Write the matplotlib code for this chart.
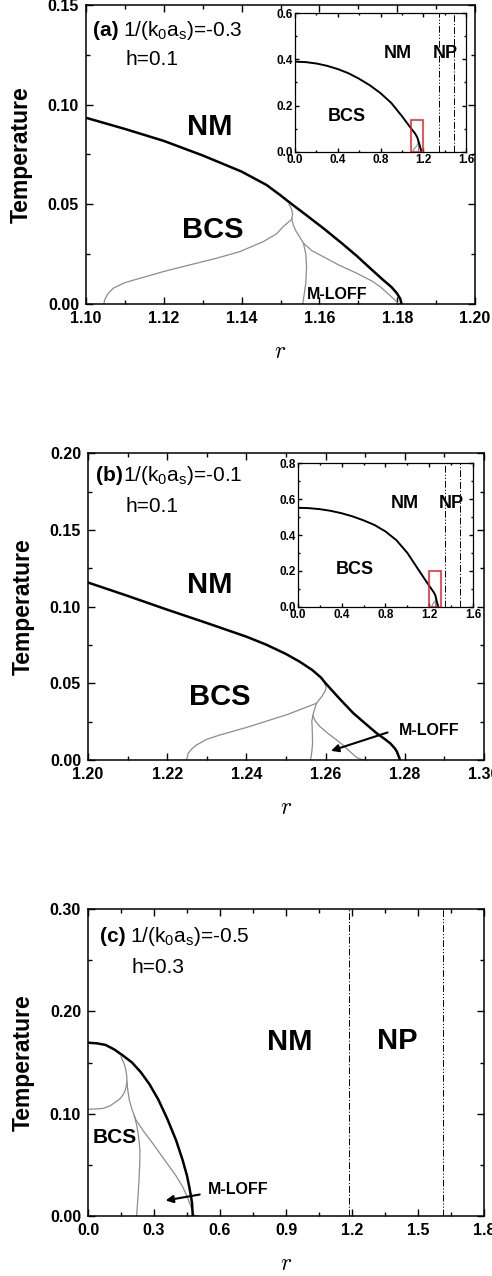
import numpy as np
import matplotlib
matplotlib.use("Agg")
import matplotlib.pyplot as plt
from matplotlib.ticker import MultipleLocator, FormatStrFormatter
from matplotlib.patches import Rectangle

plt.rcParams["font.family"] = ["Liberation Sans", "DejaVu Sans"]
plt.rcParams["mathtext.fontset"] = "custom"
plt.rcParams["mathtext.rm"] = "Liberation Sans"
plt.rcParams["mathtext.it"] = "Liberation Sans:italic"
plt.rcParams["mathtext.bf"] = "Liberation Sans:bold"

# ---------------- panel (a): 1/(k0 as) = -0.3, h = 0.1 ----------------
A_TC_R = [1.100, 1.110, 1.120, 1.130, 1.140, 1.1464, 1.150, 1.1524, 1.156, 1.161,
          1.1656, 1.1696, 1.173, 1.1764, 1.1785, 1.1799, 1.1808, 1.1811]
A_TC_T = [0.0934, 0.0878, 0.0818, 0.0745, 0.0664, 0.0597, 0.0545, 0.0508, 0.0455, 0.0380,
          0.0307, 0.0241, 0.0180, 0.0120, 0.0085, 0.0054, 0.0025, 0.0]
A_G1_R = [1.1046, 1.1048, 1.1055, 1.107, 1.110, 1.1139, 1.120, 1.1267, 1.1335, 1.1396,
          1.1456, 1.149, 1.1507, 1.1520, 1.1529, 1.1531, 1.1528, 1.1522]
A_G1_T = [0.0, 0.002, 0.0048, 0.0079, 0.0107, 0.0129, 0.0163, 0.0196, 0.0229, 0.0263,
          0.0313, 0.0352, 0.0388, 0.0410, 0.0425, 0.0452, 0.0478, 0.0498]
A_G2_R = [1.1529, 1.1533, 1.1540, 1.1559, 1.158, 1.161, 1.165, 1.1696, 1.1735, 1.1756,
          1.178, 1.1794, 1.1803]
A_G2_T = [0.0425, 0.0395, 0.0365, 0.0305, 0.0268, 0.0237, 0.0195, 0.0154, 0.0115, 0.0087,
          0.0045, 0.002, 0.0]
A_G3_R = [1.1559, 1.1565, 1.1567, 1.1565, 1.1561, 1.1557]
A_G3_T = [0.0305, 0.025, 0.0187, 0.0104, 0.005, 0.0]
# inset (a): low-r part of the transition line
A_IN_R = [0.0, 0.1, 0.2, 0.3, 0.4, 0.5, 0.6, 0.7, 0.8, 0.9, 1.0, 1.05]
A_IN_T = [0.390, 0.388, 0.382, 0.372, 0.358, 0.340, 0.316, 0.288, 0.254, 0.212, 0.155, 0.124]
A_NP_LINES = [1.344, 1.483]

# ---------------- panel (b): 1/(k0 as) = -0.1, h = 0.1 ----------------
B_TC_R = [1.200, 1.210, 1.220, 1.230, 1.240, 1.245, 1.250, 1.2535, 1.2566, 1.2588,
          1.260, 1.2635, 1.267, 1.270, 1.2729, 1.2750, 1.2763, 1.2775, 1.278, 1.2788]
B_TC_T = [0.1157, 0.1070, 0.0980, 0.0893, 0.0804, 0.0752, 0.0691, 0.0640, 0.0587, 0.0538,
          0.0500, 0.0400, 0.0305, 0.0238, 0.0174, 0.0135, 0.0109, 0.0075, 0.0054, 0.0]
B_G1_R = [1.2249, 1.2251, 1.2253, 1.2262, 1.2274, 1.230, 1.2333, 1.240, 1.246, 1.2505,
          1.2544, 1.2577, 1.2592, 1.2600, 1.2601, 1.2596, 1.2588]
B_G1_T = [0.0, 0.0022, 0.0043, 0.0072, 0.0098, 0.0135, 0.0163, 0.0212, 0.0261, 0.0298,
          0.0337, 0.037, 0.042, 0.0457, 0.048, 0.0508, 0.0536]
B_G2_R = [1.2577, 1.2569, 1.2565, 1.2566, 1.2567, 1.2565, 1.2562]
B_G2_T = [0.037, 0.0304, 0.025, 0.0217, 0.0109, 0.005, 0.0]
B_G3_R = [1.2567, 1.2575, 1.2586, 1.2605, 1.2628, 1.2645, 1.2662, 1.2678, 1.269, 1.270]
B_G3_T = [0.029, 0.025, 0.0217, 0.0175, 0.013, 0.0095, 0.0054, 0.0017, 0.0004, 0.0]
B_IN_R = [0.0, 0.1, 0.2, 0.3, 0.4, 0.5, 0.6, 0.7, 0.8, 0.9, 1.0, 1.1, 1.15]
B_IN_T = [0.552, 0.550, 0.5445, 0.535, 0.5216, 0.504, 0.482, 0.456, 0.420, 0.371,
          0.300, 0.207, 0.161]
B_NP_LINES = [1.344, 1.483]

# ---------------- panel (c): 1/(k0 as) = -0.5, h = 0.3 ----------------
C_TC_R = [0.0, 0.04, 0.08, 0.12, 0.16, 0.20, 0.24, 0.28, 0.32, 0.36, 0.40, 0.43,
          0.45, 0.46, 0.468, 0.473, 0.476]
C_TC_T = [0.1694, 0.1688, 0.1672, 0.1627, 0.1566, 0.1500, 0.1405, 0.1285, 0.1135, 0.0950,
          0.0740, 0.0545, 0.039, 0.0284, 0.019, 0.0121, 0.0]
C_G1_R = [0.0, 0.03, 0.067, 0.10, 0.127, 0.145, 0.158, 0.168, 0.173, 0.177, 0.176,
          0.172, 0.166, 0.158, 0.150]
C_G1_T = [0.1042, 0.1045, 0.105, 0.1075, 0.1116, 0.1145, 0.118, 0.122, 0.126, 0.131,
          0.137, 0.1425, 0.1475, 0.152, 0.1555]
C_G2_R = [0.177, 0.180, 0.188, 0.200, 0.218, 0.255, 0.294, 0.33, 0.37, 0.40, 0.43,
          0.45, 0.468, 0.483, 0.50]
C_G2_T = [0.131, 0.124, 0.113, 0.104, 0.0937, 0.082, 0.0709, 0.060, 0.048, 0.039,
          0.0284, 0.019, 0.0088, 0.0, 0.0]
C_G3_R = [0.210, 0.222, 0.230, 0.236, 0.235, 0.231, 0.226, 0.221]
C_G3_T = [0.098, 0.088, 0.077, 0.0643, 0.050, 0.0317, 0.015, 0.0]
C_NP_LINES = [1.185, 1.612]

GRAY = "#8c8c8c"
DASH1 = (0, (7, 2, 1.2, 2, 1.2, 2))
DASH2 = (0, (7, 2, 1.2, 2))


def style_axes(ax, xmaj, xmin, ymaj, ymin, xfmt, yfmt, size, length, pad=5):
    ax.xaxis.set_major_locator(MultipleLocator(xmaj))
    ax.xaxis.set_minor_locator(MultipleLocator(xmin))
    ax.yaxis.set_major_locator(MultipleLocator(ymaj))
    ax.yaxis.set_minor_locator(MultipleLocator(ymin))
    ax.xaxis.set_major_formatter(FormatStrFormatter(xfmt))
    ax.yaxis.set_major_formatter(FormatStrFormatter(yfmt))
    ax.tick_params(which="both", direction="in", top=True, right=True, width=1.0)
    ax.tick_params(which="major", length=length, labelsize=size, pad=pad)
    ax.tick_params(which="minor", length=length * 0.55)
    for lab in ax.get_xticklabels() + ax.get_yticklabels():
        lab.set_fontweight("bold")
    for s in ax.spines.values():
        s.set_linewidth(1.1)


def draw_lines(ax, tc, grays, tc_lw=1.8):
    for r, t in grays:
        ax.plot(r, t, color=GRAY, lw=0.9, zorder=2)
    ax.plot(tc[0], tc[1], color="k", lw=tc_lw, zorder=3)


def main_panel(rect, xlim, ylim, tc, grays, tag, coup, hval, tagpos):
    ax = fig.add_axes(rect)
    draw_lines(ax, tc, grays)
    ax.set_xlim(*xlim)
    ax.set_ylim(*ylim)
    ax.set_ylabel("Temperature", fontsize=16.5, fontweight="bold", labelpad=11)
    ax.set_xlabel("$r$", fontsize=17, math_fontfamily="cm", labelpad=11)
    x0, x1, y0, y1 = tagpos
    ax.text(x0, y0, tag, transform=ax.transAxes, fontsize=15, fontweight="bold",
            va="center", ha="left")
    ax.text(x1, y0, coup, transform=ax.transAxes, fontsize=15, va="center", ha="left")
    ax.text(x1 + 0.005, y1, hval, transform=ax.transAxes, fontsize=15, va="center", ha="left")
    return ax


def inset(rect, tc_in, tc, grays, ylim, ymaj, box, nplines, labels):
    ax = fig.add_axes(rect)
    r = list(tc_in[0]) + list(tc[0])
    t = list(tc_in[1]) + list(tc[1])
    for gr, gt in grays:
        ax.plot(gr, gt, color=GRAY, lw=0.8, zorder=2)
    ax.plot(r, t, color="k", lw=1.4, zorder=3)
    ax.axvline(nplines[0], color="k", lw=0.7, ls=DASH1)
    ax.axvline(nplines[1], color="k", lw=0.7, ls=DASH2)
    ax.add_patch(Rectangle((box[0], box[1]), box[2], box[3], fill=False,
                           edgecolor="#e8202a", lw=1.1, zorder=4))
    ax.set_xlim(0, 1.6)
    ax.set_ylim(*ylim)
    style_axes(ax, 0.4, 0.2, ymaj, ymaj / 2, "%.1f", "%.1f", 8.5, 3, pad=1.5)
    for s in ax.spines.values():
        s.set_linewidth(0.9)
    for txt, x, y in labels:
        ax.text(x, y, txt, fontsize=13, fontweight="bold", ha="center", va="center")
    return ax


fig = plt.figure(figsize=(4.92, 12.76), dpi=100)

# ---- (a)
axa = main_panel([0.1748, 0.7618, 0.7907, 0.2343], (1.10, 1.20), (0, 0.15),
                 (A_TC_R, A_TC_T),
                 [(A_G1_R, A_G1_T), (A_G2_R, A_G2_T), (A_G3_R, A_G3_T)],
                 "(a)", r"1/(k$_{\mathrm{0}}$a$_{\mathrm{s}}$)=-0.3", "h=0.1",
                 (0.019, 0.096, 0.916, 0.816))
style_axes(axa, 0.02, 0.01, 0.05, 0.025, "%.2f", "%.2f", 11.5, 5)
axa.text(1.1319, 0.0889, "NM", fontsize=21, fontweight="bold", ha="center", va="center")
axa.text(1.1326, 0.0371, "BCS", fontsize=21, fontweight="bold", ha="center", va="center")
axa.text(1.1568, 0.0047, "M-LOFF", fontsize=11.5, fontweight="bold", ha="left", va="center")

inset([0.5996, 0.8809, 0.3476, 0.1089], (A_IN_R, A_IN_T), (A_TC_R, A_TC_T),
      [(A_G1_R, A_G1_T), (A_G2_R, A_G2_T), (A_G3_R, A_G3_T)],
      (0, 0.6), 0.2, (1.083, 0.0, 0.117, 0.138), A_NP_LINES,
      [("NM", 0.964, 0.427), ("NP", 1.404, 0.427), ("BCS", 0.484, 0.152)])

# ---- (b)
axb = main_panel([0.1789, 0.4044, 0.8049, 0.2404], (1.20, 1.30), (0, 0.20),
                 (B_TC_R, B_TC_T),
                 [(B_G1_R, B_G1_T), (B_G2_R, B_G2_T), (B_G3_R, B_G3_T)],
                 "(b)", r"1/(k$_{\mathrm{0}}$a$_{\mathrm{s}}$)=-0.1", "h=0.1",
                 (0.019, 0.089, 0.929, 0.826))
style_axes(axb, 0.02, 0.01, 0.05, 0.025, "%.2f", "%.2f", 11.5, 5)
axb.text(1.2308, 0.114, "NM", fontsize=21, fontweight="bold", ha="center", va="center")
axb.text(1.2333, 0.0413, "BCS", fontsize=21, fontweight="bold", ha="center", va="center")
axb.text(1.2785, 0.0195, "M-LOFF", fontsize=11.5, fontweight="bold", ha="left", va="center")
axb.annotate("", xy=(1.2607, 0.0054), xytext=(1.2763, 0.0185),
             arrowprops=dict(arrowstyle="-|>", color="k", lw=1.5, mutation_scale=11))

inset([0.605, 0.5245, 0.3569, 0.1124], (B_IN_R, B_IN_T), (B_TC_R, B_TC_T),
      [(B_G1_R, B_G1_T), (B_G2_R, B_G2_T), (B_G3_R, B_G3_T)],
      (0, 0.8), 0.2, (1.2, 0.0, 0.11, 0.2), B_NP_LINES,
      [("NM", 0.978, 0.577), ("NP", 1.403, 0.578), ("BCS", 0.522, 0.205)])

# ---- (c)
axc = main_panel([0.1789, 0.04726, 0.8049, 0.2401], (0, 1.8), (0, 0.30),
                 (C_TC_R, C_TC_T),
                 [(C_G1_R, C_G1_T), (C_G2_R, C_G2_T), (C_G3_R, C_G3_T)],
                 "(c)", r"1/(k$_{\mathrm{0}}$a$_{\mathrm{s}}$)=-0.5", "h=0.3",
                 (0.030, 0.106, 0.911, 0.811))
style_axes(axc, 0.3, 0.15, 0.1, 0.05, "%.1f", "%.2f", 11.5, 5)
axc.axvline(C_NP_LINES[0], color="k", lw=0.7, ls=DASH2)
axc.axvline(C_NP_LINES[1], color="k", lw=0.7, ls=DASH1)
axc.text(0.918, 0.1704, "NM", fontsize=21, fontweight="bold", ha="center", va="center")
axc.text(1.405, 0.171, "NP", fontsize=21, fontweight="bold", ha="center", va="center")
axc.text(0.123, 0.0761, "BCS", fontsize=15, fontweight="bold", ha="center", va="center")
axc.text(0.547, 0.0252, "M-LOFF", fontsize=11.5, fontweight="bold", ha="left", va="center")
axc.annotate("", xy=(0.34, 0.0144), xytext=(0.52, 0.0212),
             arrowprops=dict(arrowstyle="-|>", color="k", lw=1.5, mutation_scale=11))

fig.savefig("out.png", dpi=100)
